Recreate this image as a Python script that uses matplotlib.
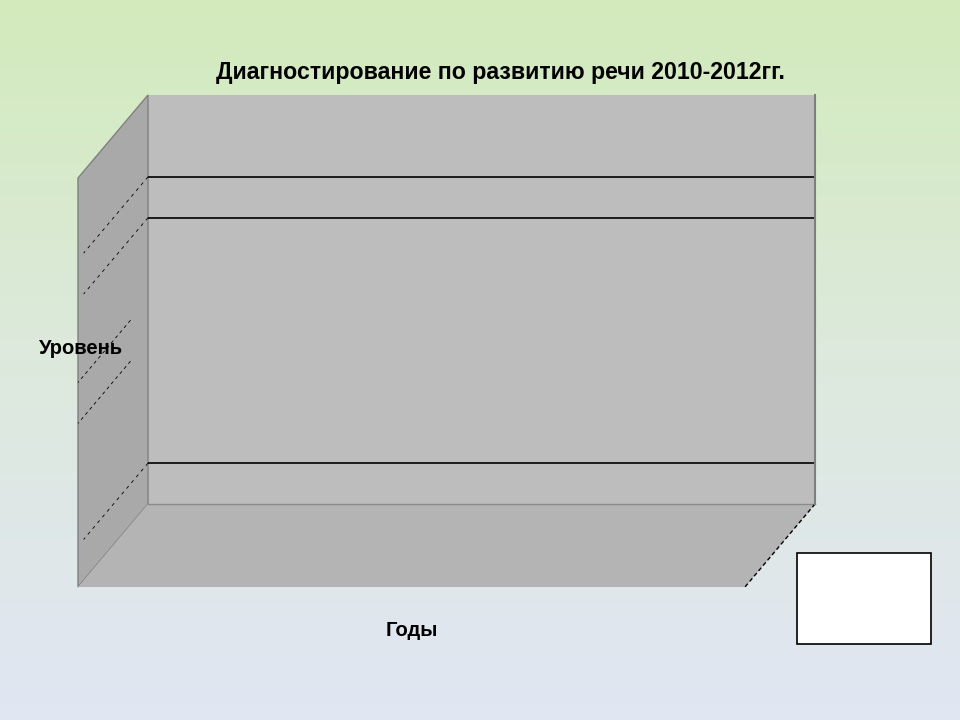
import numpy as np
import matplotlib.pyplot as plt
from matplotlib.patches import Polygon, Rectangle
from matplotlib.colors import LinearSegmentedColormap

plt.rcParams['font.family'] = ['Liberation Sans', 'DejaVu Sans']

# ---- данные диаграммы (пустая 3D-гистограмма, видны только линии сетки) ----
title = 'Диагностирование по развитию речи 2010-2012гг.'
y_label = 'Уровень'
x_label = 'Годы'
y_max = 10
grid_levels = [1, 7, 8]          # линии сетки на задней стенке
side_only_levels = [4, 5]        # обрывки линий только на боковой стенке

fig = plt.figure(figsize=(9.6, 7.2), dpi=100)

# фон - вертикальный градиент
bg = fig.add_axes([0, 0, 1, 1], zorder=-10)
cmap = LinearSegmentedColormap.from_list('bg', ['#e1e6f3', '#dde9dd', '#d2ebbc'])
bg.imshow(np.linspace(0, 1, 256).reshape(-1, 1), cmap=cmap, aspect='auto',
          origin='lower', extent=[0, 1, 0, 1])
bg.axis('off')

# задняя стенка
W, H = 960, 720
ax = fig.add_axes([148 / W, (H - 504) / H, (815 - 148) / W, (504 - 95) / H])
ax.set_facecolor('#bdbdbd')
ax.set_xlim(0, 1)
ax.set_ylim(0, y_max)
ax.set_xticks([])
ax.set_yticks(grid_levels)
ax.tick_params(left=False, labelleft=False)
ax.grid(True, axis='y', color='black', linewidth=1.2)
for s in ax.spines.values():
    s.set_visible(False)
ax.spines['right'].set_visible(True)
ax.spines['right'].set_color('#7f7f7f')
ax.spines['right'].set_linewidth(1.5)

# глубина 3D в долях осей
dx = -70 / (815 - 148)
dy = -83 / (504 - 95)

wall = Polygon([(0, 0), (0, 1), (dx, 1 + dy), (dx, dy)], closed=True,
               transform=ax.transAxes, clip_on=False,
               facecolor='#a9a9a9', edgecolor='#808080', linewidth=1, zorder=1)
floor = Polygon([(0, 0), (1, 0), (1 + dx, dy), (dx, dy)], closed=True,
                transform=ax.transAxes, clip_on=False,
                facecolor='#b4b4b4', edgecolor='none', zorder=1)
ax.add_patch(wall)
ax.add_patch(floor)
ax.plot([0, 1], [0, 0], transform=ax.transAxes, clip_on=False,
        color='#8a8a8a', linewidth=1, zorder=2)
ax.plot([1, 1 + dx], [0, dy], transform=ax.transAxes, clip_on=False,
        color='black', linewidth=1, linestyle=(0, (3, 2)), zorder=2)

# пунктирные линии сетки на боковой стенке
for v in grid_levels:
    yf = v / y_max
    ax.plot([0, 0.92 * dx], [yf, yf + 0.92 * dy], transform=ax.transAxes,
            clip_on=False, color='black', linewidth=0.6,
            linestyle=(0, (4, 5)), zorder=2)
for v in side_only_levels:
    yf = v / y_max
    ax.plot([0.25 * dx, dx], [yf + 0.25 * dy, yf + dy], transform=ax.transAxes,
            clip_on=False, color='black', linewidth=0.6,
            linestyle=(0, (4, 4)), zorder=2)

# подписи
fig.text(500 / W, 1 - 72 / H, title, ha='center', va='center',
         fontsize=16.7, fontweight='bold')
fig.text(81 / W, 1 - 348 / H, y_label, ha='center', va='center',
         fontsize=14.5, fontweight='bold', zorder=5)
fig.text(412 / W, 1 - 631 / H, x_label, ha='center', va='center',
         fontsize=14.5, fontweight='bold')

# пустая легенда
fig.patches.append(Rectangle((797 / W, 1 - 644 / H), 134 / W, 91 / H,
                             transform=fig.transFigure, facecolor='white',
                             edgecolor='black', linewidth=1.2))

fig.savefig('out.png', dpi=100)
